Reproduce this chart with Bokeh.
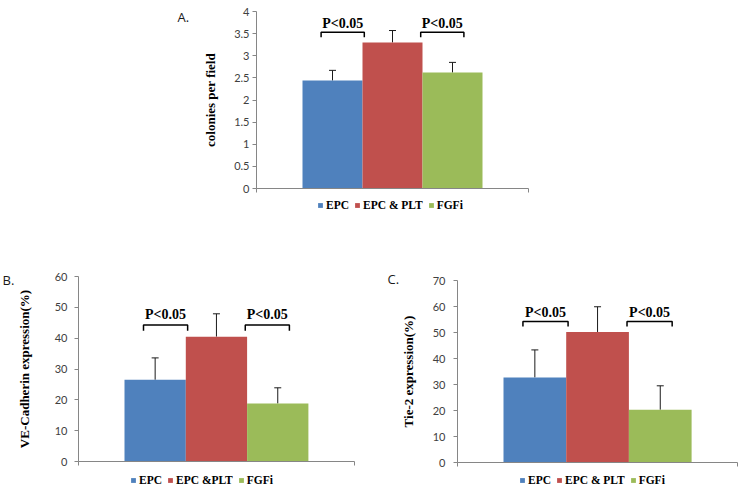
from bokeh.plotting import figure
from bokeh.layouts import column, row, Spacer
from bokeh.models import (ColumnDataSource, Range1d, FixedTicker, Whisker, TeeHead,
                          Label, Legend, LegendItem)
from bokeh.core.properties import value
from bokeh.embed import file_html
from bokeh.resources import INLINE

# ---------------- data ----------------
groups_a = ["EPC", "EPC & PLT", "FGFi"]
groups_b = ["EPC", "EPC &PLT", "FGFi"]
groups_c = ["EPC", "EPC & PLT", "FGFi"]
bar_colors = ["#4F81BD", "#C0504D", "#9BBB59"]

colonies_mean = [2.44, 3.30, 2.62]
colonies_err = [0.23, 0.27, 0.23]
vecad_mean = [26.5, 40.5, 18.8]
vecad_err = [7.1, 7.4, 5.1]
tie2_mean = [32.7, 50.2, 20.3]
tie2_err = [10.6, 9.7, 9.2]

ticks_a = [0, 0.5, 1, 1.5, 2, 2.5, 3, 3.5, 4]
tick_labels_a = ["0", "0.5", "1", "1.5", "2", "2.5", "3", "3.5", "4"]
ticks_b = [0, 10, 20, 30, 40, 50, 60]
tick_labels_b = ["0", "10", "20", "30", "40", "50", "60"]
ticks_c = [0, 10, 20, 30, 40, 50, 60, 70]
tick_labels_c = ["0", "10", "20", "30", "40", "50", "60", "70"]

sig_pairs = [(0, 1), (1, 2)]
sig_text = "P<0.05"
# bracket level, tick drop, text level (data units)
sig_a = [3.53, 0.11, 3.73]
sig_b = [44.3, 1.9, 47.7]
sig_c = [54.2, 1.9, 57.8]

SERIF = "Liberation Serif"
AXIS_GRAY = "#868686"


def make_panel(cats, means, errs, ticks, tick_labels, ylabel, letter, sig,
               box, geo, tick_standoff, label_standoff, legend_px, letter_px):
    # box: figure left, top, width, height (page px)
    # geo: y-axis x, first bar left, bar width, y of 0, y of top tick, axis end x
    fl, ft, W, H = box
    ax_px, bar_px, bw, y0_px, ytop_px, end_px = geo
    ymax = ticks[-1]
    ppu = (y0_px - ytop_px) / ymax

    def dx(px):
        return -0.5 + (px - bar_px) / bw

    def dy(py):
        return (y0_px - py) / ppu

    p = figure(width=W, height=H,
               x_range=Range1d(dx(fl), dx(fl + W)),
               y_range=Range1d(dy(ft + H), dy(ft)),
               output_backend="svg", toolbar_location=None, min_border=0,
               outline_line_color=None, background_fill_color="white",
               border_fill_color="white")
    p.grid.visible = False

    n = len(cats)
    src = ColumnDataSource(dict(
        x=list(range(n)), top=means, upper=[m + e for m, e in zip(means, errs)],
        cat=cats, color=bar_colors))
    r = p.vbar(x="x", top="top", bottom=0, width=1.0, fill_color="color",
               line_color=None, source=src)

    w = Whisker(source=src, base="x", lower="top", upper="upper",
                dimension="height", line_color="#1a1a1a", line_width=1,
                upper_head=TeeHead(size=7, line_color="#1a1a1a", line_width=1),
                lower_head=None)
    p.add_layout(w)

    # significance brackets
    lvl, drop, ty = sig
    bxs, bys, cxs = [], [], []
    for k, (i, j) in enumerate(sig_pairs):
        side = -1 if k == 0 else 1
        c = (i + j) / 2 + side * 0.33
        cxs.append(c)
        bxs.append([c - 0.36, c - 0.36, c + 0.36, c + 0.36])
        bys.append([lvl - drop, lvl, lvl, lvl - drop])
    p.multi_line(xs=bxs, ys=bys, line_color="black", line_width=1.5)
    p.text(x=cxs, y=[ty] * len(cxs), text=[sig_text] * len(cxs),
           text_align="center", text_baseline="middle",
           text_font=value(SERIF), text_font_style="bold",
           text_font_size="14px", text_color="black")

    # y axis, drawn at the value axis position
    ax = p.yaxis[0]
    ax.fixed_location = dx(ax_px)
    ax.bounds = (0, ymax)
    ax.ticker = FixedTicker(ticks=ticks)
    ax.major_label_overrides = {t: l for t, l in zip(ticks, tick_labels)}
    ax.axis_line_color = AXIS_GRAY
    ax.major_tick_line_color = AXIS_GRAY
    ax.major_tick_out = 4
    ax.major_tick_in = 0
    ax.minor_tick_line_color = None
    ax.major_label_text_font = "Lato"
    ax.major_label_text_font_size = "11px"
    ax.major_label_text_color = "#404040"
    ax.major_label_standoff = tick_standoff
    ax.axis_label = ylabel
    ax.axis_label_text_font = SERIF
    ax.axis_label_text_font_style = "bold"
    ax.axis_label_text_font_size = "13px"
    ax.axis_label_text_color = "black"
    ax.axis_label_standoff = label_standoff

    # category (x) axis: single category, ticks at both ends only
    xa = p.xaxis[0]
    xa.fixed_location = 0
    xa.bounds = (dx(ax_px), dx(end_px))
    xa.ticker = FixedTicker(ticks=[dx(ax_px), dx(end_px)])
    xa.axis_line_color = AXIS_GRAY
    xa.major_tick_line_color = AXIS_GRAY
    xa.major_tick_out = 4
    xa.major_tick_in = 0
    xa.minor_tick_line_color = None
    xa.major_label_text_color = None

    legend = Legend(items=[LegendItem(label=c, renderers=[r], index=i)
                           for i, c in enumerate(cats)],
                    location=(legend_px[0] - fl, ft + H - legend_px[1]),
                    orientation="horizontal",
                    glyph_width=6, glyph_height=6, label_standoff=3,
                    spacing=5, padding=0, margin=0, label_height=12,
                    label_text_font=SERIF, label_text_font_style="bold",
                    label_text_font_size="11.5px", label_text_color="black",
                    border_line_color=None, background_fill_alpha=0)
    p.add_layout(legend, "center")

    p.add_layout(Label(x=dx(letter_px[0]), y=dy(letter_px[1]), text=letter,
                       text_baseline="top", text_align="left",
                       text_font="Open Sans", text_font_size="13px",
                       text_color="#1a1a1a"))
    return p


pA = make_panel(groups_a, colonies_mean, colonies_err, ticks_a, tick_labels_a,
                "colonies per field", "A.", sig_a,
                (170, 0, 390, 218), (256, 302, 60.0, 188, 11, 528),
                3, 13, (317, 211), (177, 7))
pB = make_panel(groups_b, vecad_mean, vecad_err, ticks_b, tick_labels_b,
                "VE-Cadherin expression(%)", "B.", sig_b,
                (0, 218, 372, 268), (78, 124, 61.3, 461, 276, 354),
                7, 20, (130, 486), (2, 270))
pC = make_panel(groups_c, tie2_mean, tie2_err, ticks_c, tick_labels_c,
                "Tie-2 expression(%)", "C.", sig_c,
                (372, 218, 369, 268), (457, 503, 62.7, 462, 280, 737),
                8, 14, (519, 486), (387, 269))

layout = column(row(Spacer(width=170, height=218), pA), row(pB, pC))

open("out.html", "w").write(file_html(layout, INLINE))
